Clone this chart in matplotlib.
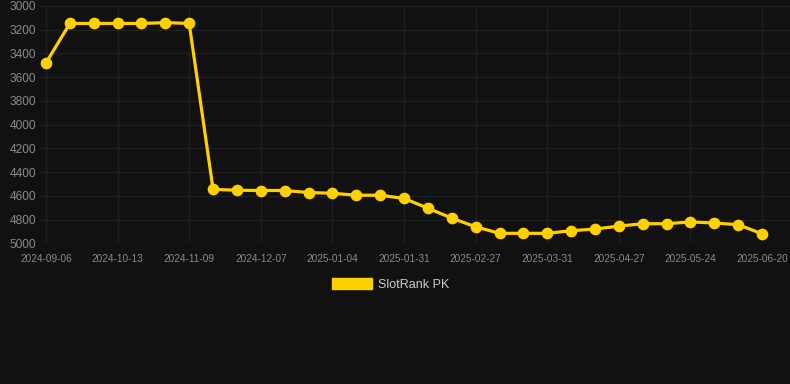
import matplotlib
matplotlib.use("Agg")
import matplotlib.pyplot as plt
from matplotlib.patches import Patch

plt.rcParams['font.family'] = ['Liberation Sans', 'DejaVu Sans']

# Data (rank values, lower is better; y axis is inverted)
ranks = [3480, 3147, 3147, 3147, 3147, 3140, 3147, 4545, 4553, 4555, 4555,
         4572, 4578, 4595, 4595, 4622, 4704, 4788, 4861, 4916, 4916, 4916,
         4894, 4880, 4855, 4835, 4835, 4820, 4829, 4843, 4920]
tick_labels = ['2024-09-06', '2024-10-13', '2024-11-09', '2024-12-07',
               '2025-01-04', '2025-01-31', '2025-02-27', '2025-03-31',
               '2025-04-27', '2025-05-24', '2025-06-20']
tick_step = 3
y_ticks = [3000, 3200, 3400, 3600, 3800, 4000, 4200, 4400, 4600, 4800, 5000]
series_name = 'SlotRank PK'

bg = '#111111'
grid_c = '#1f1f1f'
tick_c = '#8a8a8a'
line_c = '#FFD000'

fig = plt.figure(figsize=(7.9, 3.84), dpi=100, facecolor=bg)
ax = fig.add_axes([40/790, 1 - 243.3/384, 1 - 40/790, (243.3 - 6)/384])
ax.set_facecolor(bg)

x = list(range(len(ranks)))
ax.plot(x, ranks, color=line_c, linewidth=2.3, marker='o', markersize=7.4,
        markerfacecolor=line_c, markeredgecolor=line_c, zorder=3, clip_on=False)

ax.set_ylim(5000, 3000)
ax.set_yticks(y_ticks)
ax.set_yticklabels([str(v) for v in y_ticks])
ticks_x = list(range(0, len(ranks), tick_step))
ax.set_xticks(ticks_x)
ax.set_xticklabels(tick_labels)
ax.set_xlim(-0.25, 31.17)

ax.grid(True, color=grid_c, linewidth=1)
ax.set_axisbelow(True)
for s in ax.spines.values():
    s.set_visible(False)
ax.tick_params(axis='y', length=0, pad=3, labelcolor=tick_c, labelsize=8.6)
ax.tick_params(axis='x', length=0, pad=8, labelcolor=tick_c, labelsize=7.2)

handle = Patch(facecolor=line_c, edgecolor=line_c)
leg = fig.legend([handle], [series_name], loc='center', bbox_to_anchor=(0.494, 0.26),
                 frameon=False, fontsize=9, handlelength=3.2, handleheight=1.0,
                 handletextpad=0.5, labelcolor='#cccccc')

fig.savefig('out.png', dpi=100, facecolor=bg)
